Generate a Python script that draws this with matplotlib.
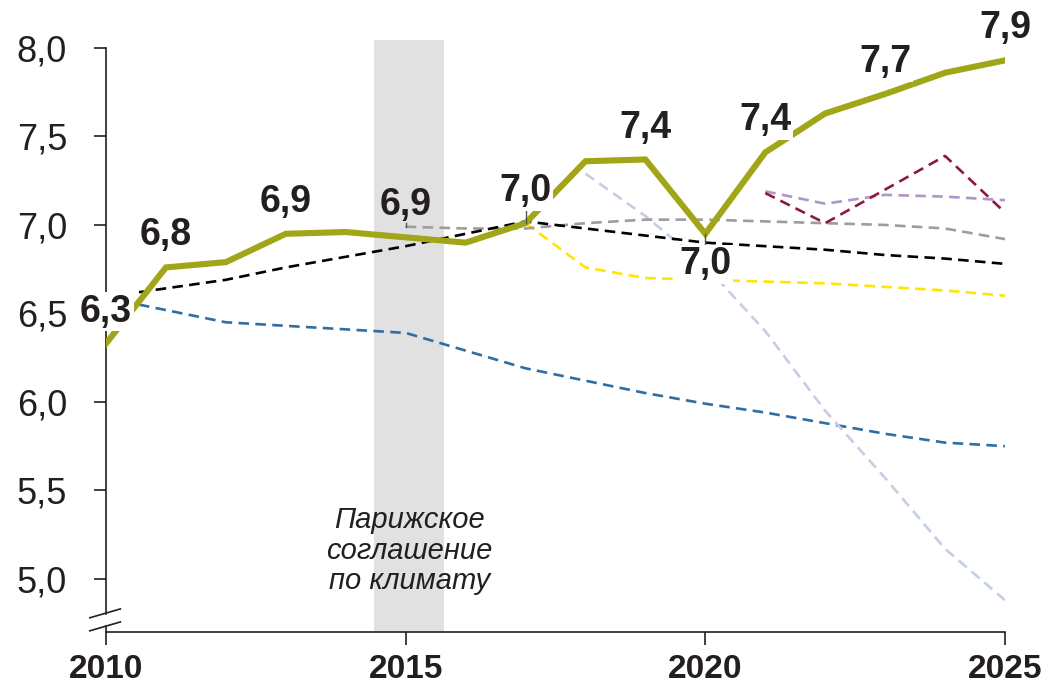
import matplotlib.pyplot as plt

plt.rcParams['font.family'] = ['Liberation Sans', 'DejaVu Sans']

# fact line
years = list(range(2010, 2026))
fact = [6.33, 6.76, 6.79, 6.95, 6.96, 6.93, 6.90, 7.01, 7.36, 7.37, 6.95, 7.41, 7.63, 7.74, 7.86, 7.93]

# forecasts (dashed)
black_x = [2010.55, 2012, 2013, 2014, 2015, 2016, 2017, 2018, 2019, 2020, 2021, 2022, 2023, 2024, 2025]
black_y = [6.62, 6.69, 6.76, 6.82, 6.88, 6.95, 7.02, 6.98, 6.94, 6.90, 6.88, 6.86, 6.83, 6.81, 6.78]

blue_x = [2010.55, 2012, 2013, 2014, 2015, 2016, 2017, 2018, 2019, 2020, 2021, 2022, 2023, 2024, 2025]
blue_y = [6.55, 6.45, 6.43, 6.41, 6.39, 6.29, 6.19, 6.12, 6.05, 5.99, 5.94, 5.88, 5.82, 5.77, 5.75]

grey_x = list(range(2015, 2026))
grey_y = [6.99, 6.98, 6.98, 7.01, 7.03, 7.03, 7.02, 7.01, 7.00, 6.98, 6.92]

yellow_x = list(range(2017, 2026))
yellow_y = [7.01, 6.76, 6.70, 6.69, 6.68, 6.67, 6.65, 6.63, 6.60]

lightblue_x = list(range(2018, 2026))
lightblue_y = [7.29, 7.05, 6.77, 6.40, 5.95, 5.57, 5.17, 4.88]

lilac_x = list(range(2021, 2026))
lilac_y = [7.19, 7.12, 7.17, 7.16, 7.14]

darkred_x = list(range(2021, 2026))
darkred_y = [7.18, 7.01, 7.20, 7.39, 7.07]

# value labels on the fact line
label_years = [2010, 2011, 2013, 2015, 2017, 2019, 2020, 2021, 2023, 2025]
label_texts = ['6,3', '6,8', '6,9', '6,9', '7,0', '7,4', '7,0', '7,4', '7,7', '7,9']
label_below = [2020]
label_ticks = [2015, 2017, 2020]

paris_start, paris_end = 2014.47, 2015.64

fig = plt.figure(figsize=(10.53, 6.92), dpi=100)
ax = fig.add_axes([106 / 1053, 60 / 692, 899 / 1053, 592 / 692])
ax.set_xlim(2010, 2025)
ax.set_ylim(4.70, 8.045)

ax.axvspan(paris_start, paris_end, color='#e1e1e1', lw=0, zorder=0)
ax.text((paris_start + paris_end) / 2 + 0.01, 5.16, 'Парижское\nсоглашение\nпо климату',
        ha='center', va='center', style='italic', fontsize=21, color='#231f20',
        linespacing=1.1, zorder=1)

dash = (4, 2.4)
ax.plot(blue_x, blue_y, color='#2f6ea3', lw=1.9, dashes=dash, zorder=2)
ax.plot(lightblue_x, lightblue_y, color='#c5cfe2', lw=1.9, dashes=dash, zorder=2)
ax.plot(yellow_x, yellow_y, color='#ffe500', lw=1.9, dashes=dash, zorder=2)
ax.plot(grey_x, grey_y, color='#9d9d9d', lw=1.9, dashes=dash, zorder=2)
ax.plot(lilac_x, lilac_y, color='#b096c8', lw=1.9, dashes=dash, zorder=2)
ax.plot(darkred_x, darkred_y, color='#8b1a3e', lw=1.9, dashes=dash, zorder=2)
ax.plot(black_x, black_y, color='#000000', lw=1.9, dashes=dash, zorder=3)

ax.plot(years, fact, color='#a0a617', lw=4.4, solid_joinstyle='miter', zorder=4)

for yr, txt in zip(label_years, label_texts):
    v = fact[years.index(yr)]
    below = yr in label_below
    off = -22 if below else 23
    if yr in label_ticks:
        if below:
            ax.plot([yr, yr], [v, v - 0.065], color='#555555', lw=1, zorder=5)
        else:
            base = grey_y[0] if yr == 2015 else v
            ax.plot([yr, yr], [base, v + 0.08], color='#555555', lw=1, zorder=5)
    box = None if yr == 2015 else dict(facecolor='white', edgecolor='none', pad=1)
    ax.annotate(txt, (yr, v), xytext=(0, off), textcoords='offset points',
                ha='center', va='center', fontsize=27, fontweight='bold',
                color='#231f20', bbox=box, zorder=6, annotation_clip=False)

# axes styling
for s in ['top', 'right']:
    ax.spines[s].set_visible(False)
ax.spines['left'].set_bounds(4.80, 8.0)
ax.spines['bottom'].set_bounds(2010, 2025)
for s in ['left', 'bottom']:
    ax.spines[s].set_linewidth(1.2)
    ax.spines[s].set_color('#231f20')
ax.plot([2010, 2010], [4.70, 4.735], color='#231f20', lw=1.2, clip_on=False)
# axis break marks
ax.plot([-0.018, 0.016], [0.024, 0.039], transform=ax.transAxes, color='#231f20', lw=1.2, clip_on=False)
ax.plot([-0.018, 0.016], [0.002, 0.017], transform=ax.transAxes, color='#231f20', lw=1.2, clip_on=False)

ax.set_yticks([5.0, 5.5, 6.0, 6.5, 7.0, 7.5, 8.0])
ax.set_yticklabels(['5,0', '5,5', '6,0', '6,5', '7,0', '7,5', '8,0'])
ax.set_xticks([2010, 2015, 2020, 2025])
ax.set_xticklabels(['2010', '2015', '2020', '2025'], fontweight='bold')
ax.tick_params(axis='y', length=9, width=1.2, pad=19, labelsize=26, colors='#231f20')
ax.tick_params(axis='x', length=9, width=1.2, pad=7, labelsize=24, colors='#231f20')

fig.savefig('out.png', dpi=100)
